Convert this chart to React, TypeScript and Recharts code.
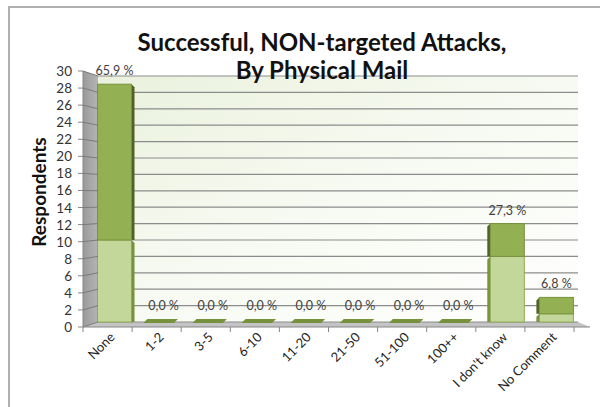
import { BarChart, Bar, XAxis, YAxis, CartesianGrid, LabelList } from "recharts";

const categories = ["None", "1-2", "3-5", "6-10", "11-20", "21-50", "51-100", "100++", "I don't know", "No Comment"];
const lowValues = [10, 0, 0, 0, 0, 0, 0, 0, 8, 1];
const highValues = [19, 0, 0, 0, 0, 0, 0, 0, 4, 2];
const pctLabels = ["65,9 %", "0,0 %", "0,0 %", "0,0 %", "0,0 %", "0,0 %", "0,0 %", "0,0 %", "27,3 %", "6,8 %"];
const yTicks = [0, 2, 4, 6, 8, 10, 12, 14, 16, 18, 20, 22, 24, 26, 28, 30];

const data = categories.map((name, i) => ({
    name,
    low: lowValues[i],
    high: highValues[i],
    pct: pctLabels[i],
}));

// layout (3d-ish excel look: back wall is a bit inset from the front axis)
const W = 600;
const H = 407;
const TOP = 76;
const BOTTOM = 322;
const LEFT = 83;
const RIGHT = 574;
const FRONT_Y = 327;
const DEPTH = 15;
const SHIFT = 6.5;
const BAND = (RIGHT - LEFT) / categories.length;
const FONT = "Lato, 'Open Sans', sans-serif";

function YTick({ y, payload }: any) {
    const v = payload.value;
    const fy = y - 5 + ((30 - v) / 30) * 10;
    return (
        <g>
            <text x={72} y={fy} textAnchor="end" dominantBaseline="central" fontSize={13.5} fill="#333" fontFamily={FONT}>
                {v}
            </text>
            <line x1={78} y1={fy} x2={LEFT} y2={fy} stroke="#868686" />
            <line x1={LEFT} y1={fy} x2={LEFT + DEPTH} y2={y} stroke="#7a7a7a" />
        </g>
    );
}

function XTick({ x, payload, index }: any) {
    return (
        <g>
            <line x1={x - BAND / 2} y1={FRONT_Y} x2={x - BAND / 2} y2={FRONT_Y + 5} stroke="#868686" />
            {index === categories.length - 1 && (
                <line x1={x + BAND / 2} y1={FRONT_Y} x2={x + BAND / 2} y2={FRONT_Y + 5} stroke="#868686" />
            )}
            <text
                transform={`translate(${x + 8},${FRONT_Y + 11}) rotate(-45)`}
                textAnchor="end"
                fontSize={13}
                fill="#222"
                fontFamily={FONT}
            >
                {payload.value}
            </text>
        </g>
    );
}

function makeShape(front: string, side: string, stroke: string) {
    return (props: any) => {
        const { x, y, width, height, index, payload } = props;
        const fx = x + SHIFT;
        if (payload.low + payload.high === 0) {
            const yb = y + height;
            return (
                <polygon
                    points={`${fx - 3},${yb + 1} ${fx + width - 7},${yb + 1} ${fx + width - 3},${yb - 3} ${fx + 1},${yb - 3}`}
                    fill="#76923c"
                />
            );
        }
        const sidePts =
            index < 5
                ? `${fx + width},${y} ${fx + width + 3},${y + 3} ${fx + width + 3},${y + height} ${fx + width},${y + height}`
                : `${fx},${y} ${fx - 3},${y + 3} ${fx - 3},${y + height} ${fx},${y + height}`;
        return (
            <g>
                <polygon points={sidePts} fill={side} />
                <rect x={fx} y={y} width={width} height={height} fill={front} stroke={stroke} strokeWidth={1} />
            </g>
        );
    };
}

function PctLabel(props: any) {
    const { x, y, width, index } = props;
    return (
        <text x={x + width / 2 + SHIFT} y={y - 9} textAnchor="middle" fontSize={12.5} fill="#404040" fontFamily={FONT}>
            {pctLabels[index]}
        </text>
    );
}

function Backdrop() {
    return (
        <svg width={W} height={H} style={{ position: "absolute", left: 0, top: 0 }}>
            <defs>
                <linearGradient id="back" x1="0" y1="0" x2="1" y2="1">
                    <stop offset="0" stopColor="#eaf1dd" />
                    <stop offset="0.5" stopColor="#f7faf2" />
                    <stop offset="1" stopColor="#ffffff" />
                </linearGradient>
                <linearGradient id="wall" x1="0" y1="0" x2="1" y2="0">
                    <stop offset="0" stopColor="#9a9a9a" />
                    <stop offset="1" stopColor="#b4b4b4" />
                </linearGradient>
            </defs>
            <rect x={LEFT + DEPTH} y={TOP} width={RIGHT + 4 - LEFT - DEPTH} height={BOTTOM - TOP} fill="url(#back)" />
            <polygon
                points={`${LEFT},${TOP - 5} ${LEFT + DEPTH},${TOP} ${LEFT + DEPTH},${BOTTOM} ${LEFT},${FRONT_Y}`}
                fill="url(#wall)"
            />
            <polygon
                points={`${LEFT},${FRONT_Y} ${LEFT + DEPTH},${BOTTOM} ${RIGHT + 4},${BOTTOM} ${RIGHT + 16},${FRONT_Y}`}
                fill="#c4c4c4"
            />
            <line x1={LEFT} y1={TOP - 5} x2={LEFT} y2={FRONT_Y} stroke="#868686" />
            <line x1={LEFT} y1={FRONT_Y} x2={RIGHT + 16} y2={FRONT_Y} stroke="#868686" />
        </svg>
    );
}

export default function App() {
    return (
        <div style={{ position: "absolute", left: 0, top: 0, width: W, height: H, background: "#fff", overflow: "hidden" }}>
            <div
                style={{
                    position: "absolute",
                    left: 8,
                    top: 6,
                    width: 640,
                    height: 450,
                    border: "2px solid #b0b0b0",
                }}
            />
            <Backdrop />
            <div style={{ position: "absolute", left: 0, top: 0 }}>
                <BarChart
                    width={W}
                    height={H}
                    data={data}
                    margin={{ top: TOP, right: W - RIGHT, left: 0, bottom: 0 }}
                    barSize={34}
                >
                    <CartesianGrid
                        vertical={false}
                        horizontal={(p: any) => (
                            <line
                                key={p.key}
                                x1={p.x1 + DEPTH}
                                y1={p.y1}
                                x2={p.x2 + 4}
                                y2={p.y2}
                                stroke="#8c8c8c"
                                strokeWidth={1.2}
                            />
                        )}
                    />
                    <XAxis dataKey="name" interval={0} axisLine={false} tickLine={false} height={H - BOTTOM} tick={<XTick />} />
                    <YAxis
                        width={LEFT}
                        domain={[0, 30]}
                        ticks={yTicks}
                        interval={0}
                        axisLine={false}
                        tickLine={false}
                        tick={<YTick />}
                    />
                    <Bar
                        dataKey="low"
                        stackId="a"
                        isAnimationActive={false}
                        shape={makeShape("#c4d79b", "#76923c", "#8eaa4e")}
                    />
                    <Bar
                        dataKey="high"
                        stackId="a"
                        minPointSize={3}
                        isAnimationActive={false}
                        shape={makeShape("#93b152", "#4f6228", "#76923c")}
                    >
                        <LabelList dataKey="pct" content={<PctLabel />} />
                    </Bar>
                </BarChart>
            </div>
            <div
                style={{
                    position: "absolute",
                    left: 0,
                    width: 644,
                    top: 28,
                    textAlign: "center",
                    fontFamily: FONT,
                    fontWeight: 700,
                    fontSize: 24,
                    lineHeight: "28px",
                    color: "#111",
                }}
            >
                Successful, NON-targeted Attacks,
                <br />
                By Physical Mail
            </div>
            <div
                style={{
                    position: "absolute",
                    left: 38,
                    top: 192,
                    transform: "translate(-50%, -50%) rotate(-90deg)",
                    fontFamily: FONT,
                    fontWeight: 700,
                    fontSize: 19,
                    whiteSpace: "nowrap",
                    color: "#111",
                }}
            >
                Respondents
            </div>
        </div>
    );
}
